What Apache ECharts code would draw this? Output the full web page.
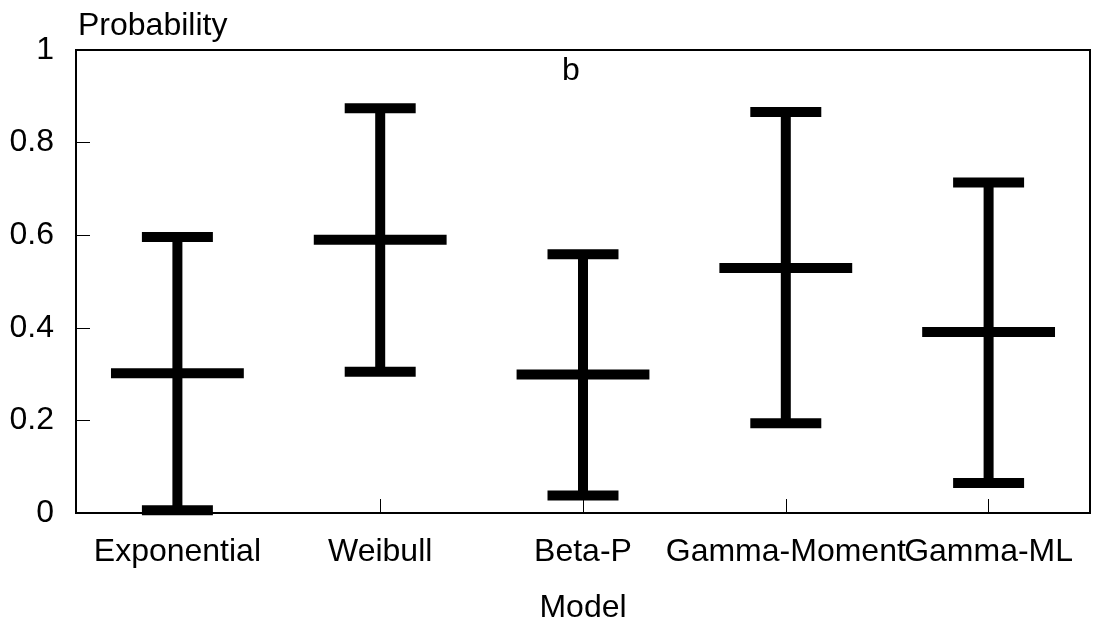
<!DOCTYPE html>
<html>
<head>
<meta charset="utf-8">
<script src="https://cdn.jsdelivr.net/npm/echarts@6/dist/echarts.min.js"></script>
<style>
  html, body { margin: 0; padding: 0; background: #fff; }
  #chart { width: 1093px; height: 629px; }
</style>
</head>
<body>
<div id="chart"></div>
<script>
// Estimated probability per model: lower bound, mean, upper bound
const models = ['Exponential', 'Weibull', 'Beta-P', 'Gamma-Moment', 'Gamma-ML'];
const lowerValues = [0.006, 0.305, 0.038, 0.194, 0.065];
const meanValues = [0.302, 0.590, 0.299, 0.529, 0.391];
const upperValues = [0.596, 0.874, 0.559, 0.866, 0.714];
const yTicks = [0, 0.2, 0.4, 0.6, 0.8, 1];

const FONT = '"Liberation Sans", Arial, sans-serif';
const FS = 32;

const rows = models.map((m, i) => [i, lowerValues[i], meanValues[i], upperValues[i]]);

// Error bar: vertical stem, caps at the bounds, wider bar at the mean
function renderErrorBar(params, api) {
  const x = api.value(0);
  const lo = api.coord([x, api.value(1)]);
  const mid = api.coord([x, api.value(2)]);
  const hi = api.coord([x, api.value(3)]);
  const band = api.size([1, 0])[0];
  const lw = 10;
  const capW = band * 0.35;
  const meanW = band * 0.655;
  const style = { fill: '#000' };
  const cx = lo[0];
  return {
    type: 'group',
    children: [
      { type: 'rect', shape: { x: cx - lw / 2, y: hi[1], width: lw, height: lo[1] - hi[1] }, style },
      { type: 'rect', shape: { x: cx - capW / 2, y: hi[1] - lw / 2, width: capW, height: lw }, style },
      { type: 'rect', shape: { x: cx - capW / 2, y: lo[1] - lw / 2, width: capW, height: lw }, style },
      { type: 'rect', shape: { x: cx - meanW / 2, y: mid[1] - lw / 2, width: meanW, height: lw }, style }
    ]
  };
}

const chart = echarts.init(document.getElementById('chart'), null, { renderer: 'canvas' });
chart.setOption({
  animation: false,
  backgroundColor: '#fff',
  textStyle: { fontFamily: FONT, color: '#000' },
  grid: {
    left: 76, right: 3, top: 50, bottom: 114,
    show: true, borderColor: '#000', borderWidth: 2, backgroundColor: 'transparent'
  },
  graphic: [{
    type: 'text',
    left: 562, top: 55,
    style: { text: 'b', fontFamily: FONT, fontSize: FS, fill: '#000' }
  }],
  xAxis: {
    type: 'category',
    data: models,
    boundaryGap: true,
    name: 'Model',
    nameLocation: 'middle',
    nameGap: 79,
    nameTextStyle: { fontFamily: FONT, fontSize: FS, color: '#000' },
    axisLine: { show: true, lineStyle: { color: '#000', width: 2 } },
    axisTick: { show: true, inside: true, alignWithLabel: true, length: 14, lineStyle: { color: '#000', width: 1 } },
    axisLabel: { fontFamily: FONT, fontSize: FS, color: '#000', margin: 23, interval: 0 },
    splitLine: { show: false }
  },
  yAxis: {
    type: 'value',
    min: 0, max: 1, interval: 0.2,
    name: 'Probability',
    nameLocation: 'end',
    nameGap: 8,
    nameTextStyle: { fontFamily: FONT, fontSize: FS, color: '#000', align: 'left', padding: [0, 0, 0, 2] },
    axisLine: { show: true, lineStyle: { color: '#000', width: 2 } },
    axisTick: { show: true, inside: true, length: 14, lineStyle: { color: '#000', width: 1 } },
    axisLabel: {
      fontFamily: FONT, fontSize: FS, color: '#000', margin: 22,
      formatter: v => {
        const t = yTicks.find(k => Math.abs(k - v) < 1e-9);
        return t === undefined ? '' : String(t);
      }
    },
    splitLine: { show: false }
  },
  series: [{
    type: 'custom',
    renderItem: renderErrorBar,
    encode: { x: 0, y: [1, 2, 3] },
    data: rows,
    z: 10
  }]
});
</script>
</body>
</html>
